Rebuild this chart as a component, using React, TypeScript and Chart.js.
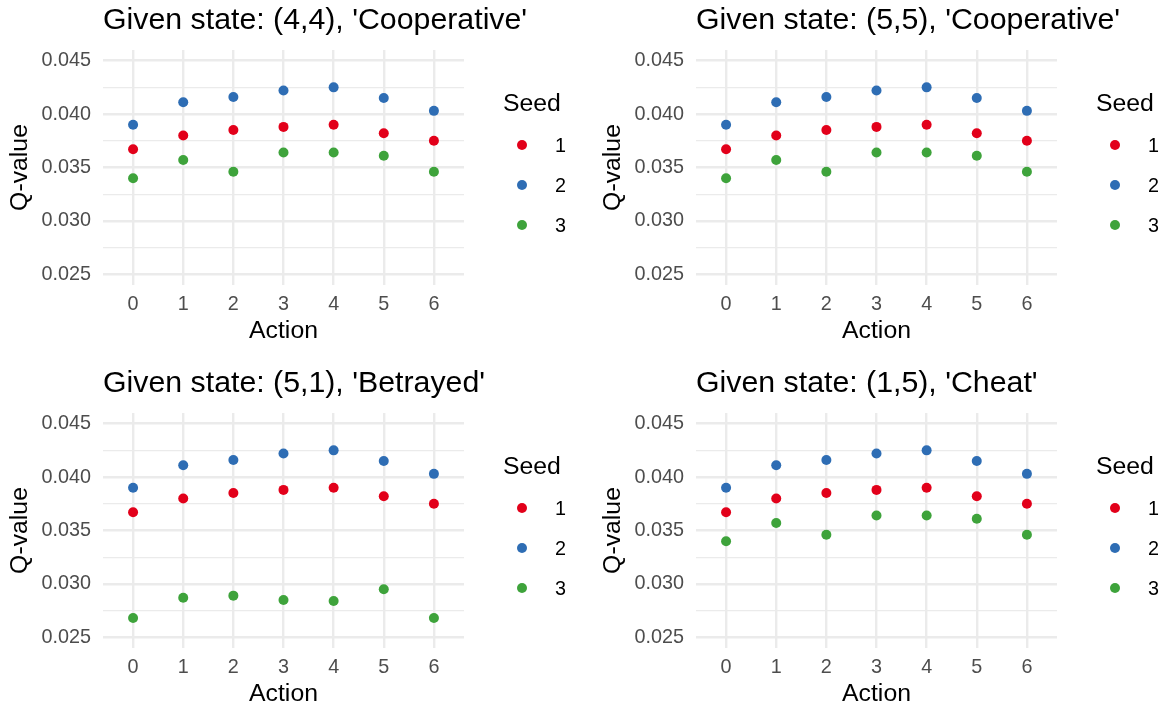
import React, { useEffect, useRef } from "react";
import { Chart, registerables } from "chart.js";

Chart.register(...registerables);

// ---------- data ----------
const panelTitles = [
  "Given state: (4,4), 'Cooperative'",
  "Given state: (5,5), 'Cooperative'",
  "Given state: (5,1), 'Betrayed'",
  "Given state: (1,5), 'Cheat'",
];
const actions = [0, 1, 2, 3, 4, 5, 6];
const seedLabels = ["1", "2", "3"];
const seedColors = ["#E2001A", "#2E6DB4", "#3EA33B"];

const seed1 = [0.0367, 0.038, 0.0385, 0.0388, 0.039, 0.0382, 0.0375];
const seed2 = [0.039, 0.0411, 0.0416, 0.0422, 0.0425, 0.0415, 0.0403];
const seed3Cooperative = [0.034, 0.0357, 0.0346, 0.0364, 0.0364, 0.0361, 0.0346];
const seed3Betrayed = [0.0268, 0.0287, 0.0289, 0.0285, 0.0284, 0.0295, 0.0268];
const seed3Cheat = [0.034, 0.0357, 0.0346, 0.0364, 0.0364, 0.0361, 0.0346];

const panelSeries = [
  [seed1, seed2, seed3Cooperative],
  [seed1, seed2, seed3Cooperative],
  [seed1, seed2, seed3Betrayed],
  [seed1, seed2, seed3Cheat],
];

const yMajorTicks = [0.025, 0.03, 0.035, 0.04, 0.045];
const yMajorLabels = ["0.025", "0.030", "0.035", "0.040", "0.045"];
const yMinorTicks = [0.0275, 0.0325, 0.0375, 0.0425];
const yMin = 0.024;
const yMax = 0.046;
const xMin = -0.6;
const xMax = 6.6;

// ---------- layout ----------
const FONT = "'Liberation Sans', Arial, Helvetica, sans-serif";
const CW = 577;
const CH = 348;
const AREA_LEFT = 103;
const AREA_RIGHT = 464;
const AREA_BOTTOM = 285;
const panelPos = [
  { left: 0, top: 0 },
  { left: 593, top: 0 },
  { left: 0, top: 363 },
  { left: 593, top: 363 },
];

const titleShift = {
  id: "titleShift",
  afterLayout(chart: any) {
    const t = chart.titleBlock;
    if (t) {
      t.left = chart.chartArea.left;
      t.right = chart.width;
      t.width = t.right - t.left;
    }
  },
};

function Panel({ title, series }: { title: string; series: number[][] }) {
  const ref = useRef<HTMLCanvasElement | null>(null);
  useEffect(() => {
    if (!ref.current) return;
    const majorSet = new Set(yMajorTicks);
    const chart = new Chart(ref.current, {
      type: "scatter",
      data: {
        datasets: series.map((vals, i) => ({
          label: seedLabels[i],
          data: actions.map((a, j) => ({ x: a, y: vals[j] })),
          backgroundColor: seedColors[i],
          borderWidth: 0,
          pointRadius: 5,
          pointHoverRadius: 5,
        })),
      },
      options: {
        animation: false,
        responsive: false,
        events: [],
        layout: { padding: { left: 0, right: CW - AREA_RIGHT, top: 0, bottom: 0 } },
        plugins: {
          legend: { display: false },
          tooltip: { enabled: false },
          title: {
            display: true,
            text: title,
            align: "start",
            fullSize: true,
            color: "#000000",
            font: { family: FONT, size: 30.3, weight: "normal", lineHeight: 1.2 },
            padding: { top: 2.6, bottom: 11.0 },
          },
        },
        scales: {
          x: {
            type: "linear",
            min: xMin,
            max: xMax,
            afterBuildTicks: (s: any) => {
              s.ticks = actions.map((v) => ({ value: v }));
            },
            afterFit: (s: any) => {
              s.height = CH - AREA_BOTTOM;
            },
            grid: { color: "#EBEBEB", lineWidth: 2.4, drawTicks: false },
            border: { display: false },
            ticks: {
              autoSkip: false,
              maxRotation: 0,
              padding: 8,
              color: "#4D4D4D",
              font: { family: FONT, size: 19.8 },
              callback: (v: any) => String(v),
            },
            title: {
              display: true,
              text: "Action",
              color: "#000000",
              font: { family: FONT, size: 24.8 },
              padding: { top: 0, bottom: 1.5 },
            },
          },
          y: {
            type: "linear",
            min: yMin,
            max: yMax,
            afterBuildTicks: (s: any) => {
              s.ticks = [...yMajorTicks, ...yMinorTicks]
                .sort((a, b) => a - b)
                .map((v) => ({ value: v }));
            },
            afterFit: (s: any) => {
              s.width = AREA_LEFT;
            },
            grid: {
              color: "#EBEBEB",
              lineWidth: (ctx: any) => (ctx.tick && majorSet.has(ctx.tick.value) ? 2.4 : 1.2),
              drawTicks: false,
            },
            border: { display: false },
            ticks: {
              autoSkip: false,
              padding: 12,
              color: "#4D4D4D",
              font: { family: FONT, size: 19.8 },
              callback: (v: any) => {
                const idx = yMajorTicks.indexOf(v);
                return idx >= 0 ? yMajorLabels[idx] : "";
              },
            },
            title: {
              display: true,
              text: "Q-value",
              color: "#000000",
              font: { family: FONT, size: 24.8 },
              padding: { top: 5.6, bottom: 0 },
            },
          },
        },
      } as any,
      plugins: [titleShift],
    });
    return () => chart.destroy();
  }, [title, series]);
  return <canvas ref={ref} width={CW} height={CH} style={{ display: "block" }} />;
}

function Legend() {
  return (
    <div style={{ position: "absolute", left: 0, top: 0, fontFamily: FONT, color: "#000" }}>
      <div
        style={{
          position: "absolute",
          left: 503,
          top: 90.6,
          fontSize: 24.8,
          lineHeight: "24.8px",
          whiteSpace: "nowrap",
        }}
      >
        Seed
      </div>
      {seedLabels.map((lab, i) => (
        <React.Fragment key={lab}>
          <div
            style={{
              position: "absolute",
              left: 522.3 - 5,
              top: 145 + i * 40 - 5,
              width: 10,
              height: 10,
              borderRadius: "50%",
              background: seedColors[i],
            }}
          />
          <div
            style={{
              position: "absolute",
              left: 555,
              top: 145.6 + i * 40 - 0.49 * 19.8,
              fontSize: 19.8,
              lineHeight: "19.8px",
              whiteSpace: "nowrap",
            }}
          >
            {lab}
          </div>
        </React.Fragment>
      ))}
    </div>
  );
}

export default function App() {
  return (
    <div
      style={{
        position: "absolute",
        left: 0,
        top: 0,
        width: 1170,
        height: 706,
        overflow: "hidden",
        background: "#ffffff",
      }}
    >
      {panelTitles.map((t, i) => (
        <div
          key={t}
          style={{
            position: "absolute",
            left: panelPos[i].left,
            top: panelPos[i].top,
            width: CW,
            height: CH,
          }}
        >
          <Panel title={t} series={panelSeries[i]} />
          <Legend />
        </div>
      ))}
    </div>
  );
}
